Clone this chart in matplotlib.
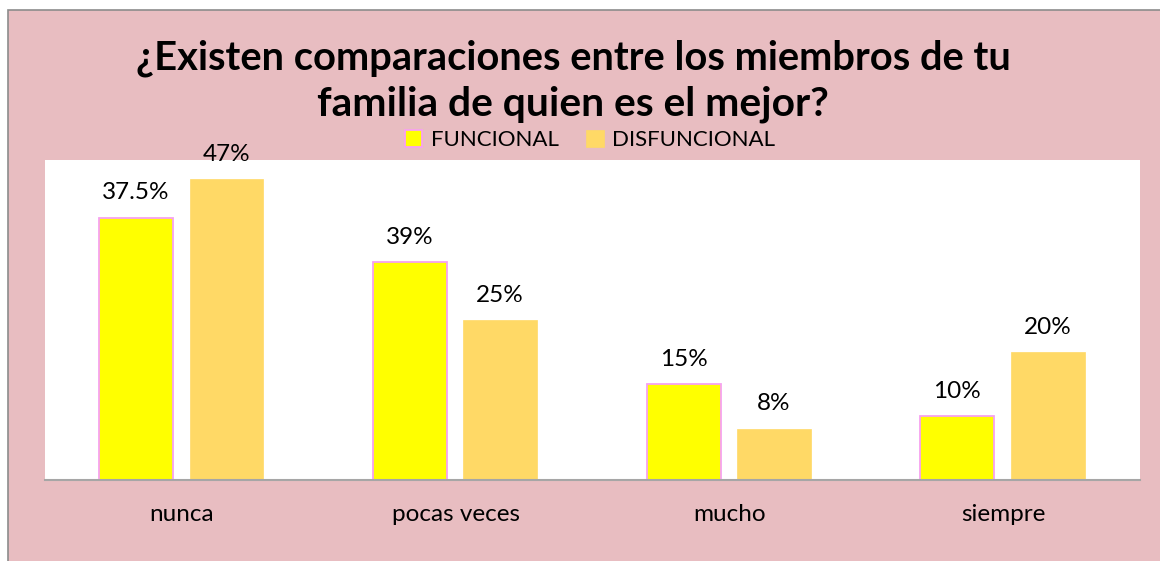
import numpy as np
import matplotlib
matplotlib.use("Agg")
import matplotlib.pyplot as plt
from matplotlib.patches import Rectangle

categories = ["nunca", "pocas veces", "mucho", "siempre"]
funcional = [41, 34, 15, 10]
disfuncional = [47, 25, 8, 20]
funcional_labels = ["37.5%", "39%", "15%", "10%"]
disfuncional_labels = ["47%", "25%", "8%", "20%"]

W, H = 1160, 561
plt.rcParams["font.family"] = ["Lato", "DejaVu Sans"]

fig = plt.figure(figsize=(W / 100, H / 100), dpi=100)
fig.patch.set_facecolor("white")
# chart area (pink) with grey frame on top/left only (rest runs off the picture)
fig.patches.append(Rectangle((8 / W, -0.05), 1.1, 1.05 - 10 / H, transform=fig.transFigure,
                             facecolor="#E8BDC1", edgecolor="#8C8C8C", lw=1.2, zorder=-10))

ax = fig.add_axes([45 / W, (H - 480) / H, 1095 / W, 320 / H])
ax.set_facecolor("white")
x = np.arange(len(categories))
w = 0.27
ax.bar(x - 0.167, funcional, w, color="#FFFF00", edgecolor="#F7A1F0", lw=1.3, label="FUNCIONAL")
ax.bar(x + 0.163, disfuncional, w, color="#FFD966", edgecolor="#FFD966", lw=0.5, label="DISFUNCIONAL")

for xi, v, t in zip(x - 0.167, funcional, funcional_labels):
    ax.annotate(t, (xi, v), xytext=(0, 18), textcoords="offset points", ha="center", va="center", fontsize=17.5)
for xi, v, t in zip(x + 0.163, disfuncional, disfuncional_labels):
    ax.annotate(t, (xi, v), xytext=(0, 18), textcoords="offset points", ha="center", va="center",
                fontsize=17.5, annotation_clip=False)

ax.set_xlim(-0.5, 3.5)
ax.set_ylim(0, 50)
ax.set_yticks([])
ax.set_xticks(x)
ax.set_xticklabels(categories, fontsize=17.5)
ax.tick_params(axis="x", length=0, pad=17)
for s in ["top", "right", "left"]:
    ax.spines[s].set_visible(False)
ax.spines["bottom"].set_color("#A6A6A6")
ax.spines["bottom"].set_linewidth(1.5)

fig.text(573 / W, 1 - 58 / H, "¿Existen comparaciones entre los miembros de tu",
         ha="center", va="center", fontsize=28.7, fontweight="bold")
fig.text(573 / W, 1 - 104 / H, "familia de quien es el mejor?",
         ha="center", va="center", fontsize=29.3, fontweight="bold")

fig.legend(loc="center", bbox_to_anchor=(590 / W, 1 - 140 / H), ncol=2, frameon=False,
           fontsize=16, handlelength=0.8, handleheight=0.8, handletextpad=0.4, columnspacing=1.2)

fig.savefig("out.png", dpi=100)
